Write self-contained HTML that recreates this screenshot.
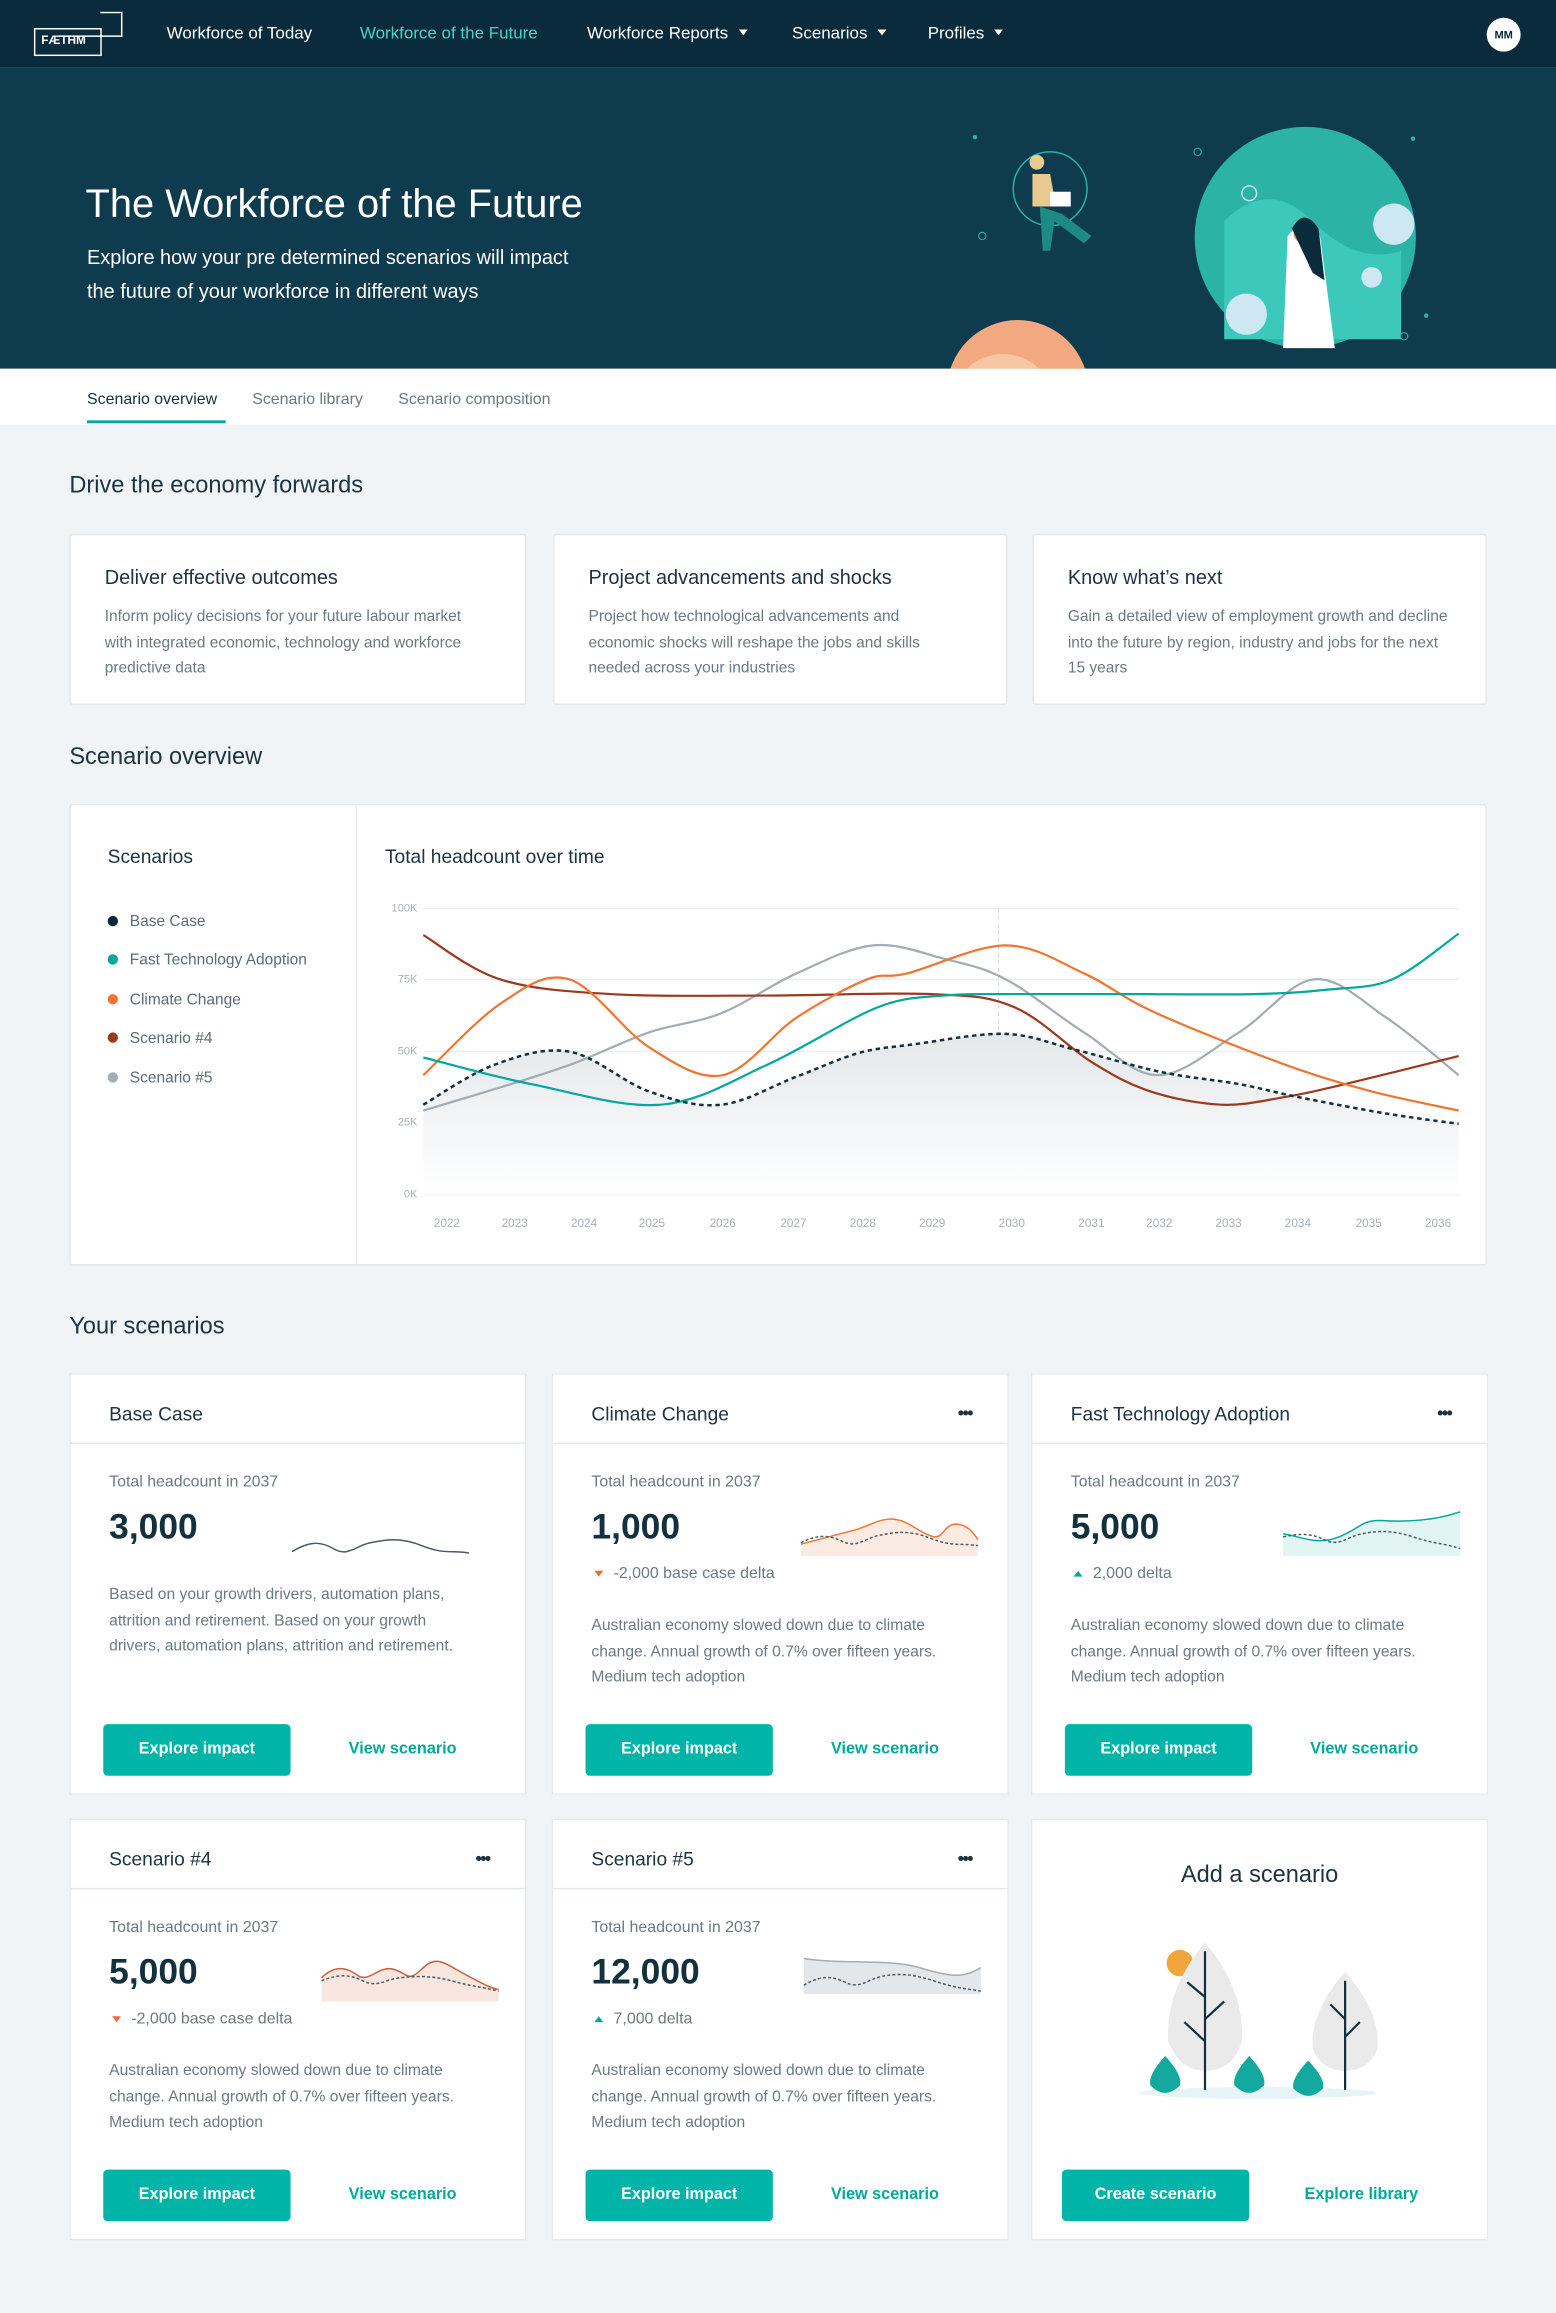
<!DOCTYPE html>
<html><head><meta charset="utf-8">
<style>
*{box-sizing:border-box;margin:0;padding:0}
html,body{width:1556px;height:2312px;overflow:hidden;background:#f1f4f6}
body{font-family:"Liberation Sans",sans-serif;color:#1d3440}
#w{position:absolute;left:0;top:0;width:1055px;height:1568px;transform:scale(1.4749);transform-origin:0 0;background:#f1f4f6}
.a{position:absolute;white-space:nowrap}
.card{position:absolute;background:#fff;border:1px solid #e3e8eb;border-radius:2px}
.nav{position:absolute;top:17px;font-size:11.5px;color:#fff}
.tri{display:inline-block;width:0;height:0;border-left:3.5px solid transparent;border-right:3.5px solid transparent;border-top:4px solid #fff;margin-left:7px;vertical-align:2px}
.h2{position:absolute;left:47px;font-size:16px;color:#1d3440}
.ct{font-size:13.5px;color:#1d3440;position:absolute;left:23px;top:21px}
.cb{font-size:10.5px;color:#6a7a83;line-height:17.7px;position:absolute;left:23px;top:47px;white-space:normal;width:258px}
.sc{position:absolute;background:#fff;border:1px solid #e6eaed;width:310px;height:286px}
.sc .t{position:absolute;left:26px;top:19px;font-size:13px;color:#1d3440}
.sc .dots{position:absolute;right:24px;top:19px;font-size:12px;color:#1d3440;letter-spacing:-1px;font-weight:bold}
.sc .hr{position:absolute;left:0;right:0;top:46px;border-top:1px solid #e3e8eb}
.sc .l{position:absolute;left:26px;top:67px;font-size:10.8px;color:#6a7a83}
.sc .n{position:absolute;left:26px;top:90px;font-size:24px;font-weight:bold;color:#12303d}
.sc .d{position:absolute;left:26px;top:129px;font-size:10.8px;color:#6a7a83}
.sc .p{position:absolute;left:26px;font-size:10.6px;color:#6a7a83;line-height:17.7px;width:250px;white-space:normal}
.btn{position:absolute;left:22px;top:237px;width:127px;height:35px;background:#00b5a8;border-radius:3px;color:#fff;font-size:11px;font-weight:bold;text-align:center;line-height:35px}
.lnk{position:absolute;left:160px;top:237px;width:130px;line-height:35px;text-align:center;color:#00a99d;font-size:11px;font-weight:bold}
.up{display:inline-block;width:0;height:0;border-left:3.5px solid transparent;border-right:3.5px solid transparent;border-bottom:4px solid #00a99d;margin:0 7px 1px 2px}
.dn{display:inline-block;width:0;height:0;border-left:3.5px solid transparent;border-right:3.5px solid transparent;border-top:4px solid #f2673a;margin:0 7px 1px 2px}
.lg{position:absolute;left:73px;font-size:10.5px;color:#5b6c75}
.lg i{display:inline-block;width:7px;height:7px;border-radius:50%;margin-right:8px;vertical-align:0}
.yl{position:absolute;font-size:7.5px;color:#a7b1b7;width:30px;text-align:right;left:253px}
.xl{position:absolute;top:825px;font-size:8px;color:#a7b1b7;transform:translateX(-50%)}
</style></head><body>
<div id="w">
<div class="a" style="left:0;top:0;width:1055px;height:46px;background:#0a2b3b"></div>
<div class="a" style="left:0;top:46px;width:1055px;height:204px;background:#0f3b4e"></div>
<div class="a" style="left:23px;top:19px;width:46px;height:19px;border:1.5px solid #fff;color:#fff;font-size:8px;font-weight:bold;line-height:16px;padding-left:4px">FÆTHM</div>
<div class="a" style="left:68px;top:8px;width:15px;height:17px;border:1.5px solid #fff;border-left:none"></div>
<div class="a" style="left:40px;top:24px;width:29px;border-top:1.5px solid #fff"></div>
<div class="nav" style="left:113px">Workforce of Today</div>
<div class="nav" style="left:244px;color:#4fd1c5">Workforce of the Future</div>
<div class="nav" style="left:398px">Workforce Reports<span class="tri"></span></div>
<div class="nav" style="left:537px">Scenarios<span class="tri"></span></div>
<div class="nav" style="left:629px">Profiles<span class="tri"></span></div>
<div class="a" style="left:1008px;top:12px;width:23px;height:23px;border-radius:50%;background:#fff;color:#0a2b3b;font-size:7.5px;font-weight:bold;text-align:center;line-height:23px">MM</div>
<div class="a" style="left:58px;top:123px;font-size:27px;color:#fff">The Workforce of the Future</div>
<div class="a" style="left:59px;top:163px;font-size:13.5px;color:#fff;line-height:23px">Explore how your pre determined scenarios will impact<br>the future of your workforce in different ways</div>
<svg class="a" style="left:620px;top:46px" width="360" height="204" viewBox="620 46 360 204">
<circle cx="885" cy="161" r="75" fill="#2bb3a6"/>
<path d="M830 150 Q860 120 890 150 T950 170 L950 230 L830 230Z" fill="#3cc8bb"/>
<circle cx="945" cy="152" r="14" fill="#cde8f2"/><circle cx="845" cy="213" r="14" fill="#cde8f2"/><circle cx="930" cy="188" r="7" fill="#cde8f2"/>
<path d="M873 160 Q885 145 895 160 L905 236 L870 236Z" fill="#fff"/>
<circle cx="884" cy="158" r="7" fill="#e08a65"/><path d="M876 155 Q884 140 894 155 L898 190 L890 185Z" fill="#0a2b3b"/>
<circle cx="847" cy="131" r="5" fill="none" stroke="#cde8f2"/>
<circle cx="712" cy="128" r="25" fill="none" stroke="#2bb3a6"/>
<path d="M700 118 L712 118 L716 140 L700 140Z" fill="#e8c98f"/><circle cx="703" cy="110" r="5" fill="#e8c98f"/>
<rect x="712" y="130" width="14" height="10" fill="#fff"/><path d="M705 140 L720 145 L740 160 L735 165 L715 150 L712 170 L707 170Z" fill="#1d8a85"/>
<circle cx="690" cy="265" r="48" fill="#f2a97f"/><circle cx="680" cy="275" r="35" fill="#f7c7a4"/>
<circle cx="661" cy="93" r="1.5" fill="#2bb3a6"/><circle cx="958" cy="94" r="1.5" fill="#2bb3a6"/><circle cx="967" cy="214" r="1.5" fill="#2bb3a6"/>
<circle cx="666" cy="160" r="2.5" fill="none" stroke="#2bb3a6" stroke-width=".7"/><circle cx="812" cy="103" r="2.5" fill="none" stroke="#2bb3a6" stroke-width=".7"/><circle cx="952" cy="228" r="2.5" fill="none" stroke="#2bb3a6" stroke-width=".7"/>
</svg>
<div class="a" style="left:0;top:250px;width:1055px;height:38px;background:#fff"></div>
<div class="a" style="left:59px;top:265px;font-size:10.8px;color:#12303d">Scenario overview</div>
<div class="a" style="left:59px;top:285px;width:94px;height:2px;background:#00a99d"></div>
<div class="a" style="left:171px;top:265px;font-size:10.8px;color:#6a7a83">Scenario library</div>
<div class="a" style="left:270px;top:265px;font-size:10.8px;color:#6a7a83">Scenario composition</div>

<div class="h2" style="top:321px">Drive the economy forwards</div>
<div class="card" style="left:47px;top:362px;width:310px;height:116px"><div class="ct">Deliver effective outcomes</div><div class="cb">Inform policy decisions for your future labour market with integrated economic, technology and workforce predictive data</div></div>
<div class="card" style="left:375px;top:362px;width:308px;height:116px"><div class="ct">Project advancements and shocks</div><div class="cb">Project how technological advancements and economic shocks will reshape the jobs and skills needed across your industries</div></div>
<div class="card" style="left:700px;top:362px;width:308px;height:116px"><div class="ct">Know what’s next</div><div class="cb">Gain a detailed view of employment growth and decline into the future by region, industry and jobs for the next 15 years</div></div>

<div class="h2" style="top:505px">Scenario overview</div>
<div class="card" style="left:47px;top:545px;width:961px;height:313px"></div>
<div class="a" style="left:241px;top:546px;height:311px;border-left:1px solid #e6eaed"></div>
<div class="a" style="left:73px;top:573px;font-size:13px;color:#1d3440">Scenarios</div>
<div class="a" style="left:261px;top:573px;font-size:13px;color:#1d3440">Total headcount over time</div>
<div class="lg" style="top:619px"><i style="background:#0a2b3b"></i>Base Case</div>
<div class="lg" style="top:645px"><i style="background:#00a99d"></i>Fast Technology Adoption</div>
<div class="lg" style="top:672px"><i style="background:#ef7530"></i>Climate Change</div>
<div class="lg" style="top:698px"><i style="background:#9b3a1e"></i>Scenario #4</div>
<div class="lg" style="top:725px"><i style="background:#a3acb2"></i>Scenario #5</div>
<div class="yl" style="top:611px">100K</div><div class="yl" style="top:659px">75K</div><div class="yl" style="top:708px">50K</div><div class="yl" style="top:756px">25K</div><div class="yl" style="top:805px">0K</div>
<div class="xl" style="left:303px">2022</div><div class="xl" style="left:349px">2023</div><div class="xl" style="left:396px">2024</div><div class="xl" style="left:442px">2025</div><div class="xl" style="left:490px">2026</div><div class="xl" style="left:538px">2027</div><div class="xl" style="left:585px">2028</div><div class="xl" style="left:632px">2029</div><div class="xl" style="left:686px">2030</div><div class="xl" style="left:740px">2031</div><div class="xl" style="left:786px">2032</div><div class="xl" style="left:833px">2033</div><div class="xl" style="left:880px">2034</div><div class="xl" style="left:928px">2035</div><div class="xl" style="left:975px">2036</div>
<svg class="a" style="left:0;top:0" width="1055" height="900" viewBox="0 0 1055 900">
<defs><linearGradient id="g" x1="0" y1="0" x2="0" y2="1"><stop offset="0" stop-color="#e4e8eb"/><stop offset="1" stop-color="#fff"/></linearGradient></defs>
<g stroke="#eceff1" stroke-width="1"><line x1="287" y1="616" x2="989" y2="616"/><line x1="287" y1="664" x2="989" y2="664"/><line x1="287" y1="713" x2="989" y2="713"/><line x1="287" y1="761" x2="989" y2="761"/><line x1="287" y1="810" x2="989" y2="810"/></g>
<line x1="677" y1="616" x2="677" y2="810" stroke="#dcdfe2" stroke-dasharray="3 2" stroke-width=".7"/>
<path id="area" fill="url(#g)"/>
<g fill="none" stroke-width="1.5">
<path id="s5" stroke="#a3acb2"/><path id="s4" stroke="#9b3a1e"/><path id="s3" stroke="#ef7530"/><path id="s2" stroke="#00a99d"/><path id="s1" stroke="#12303d" stroke-dasharray="3 2.5" stroke-width="1.7"/>
</g>
</svg>

<div class="h2" style="top:891px">Your scenarios</div>

<div class="sc" style="left:47px;top:931px"><div class="t">Base Case</div><div class="hr"></div><div class="l">Total headcount in 2037</div><div class="n">3,000</div>
<svg class="a" style="left:148px;top:100px" width="125" height="30"><path d="M2 20 C12 14 20 12 30 18 S45 16 55 14 S75 10 90 16 S110 19 122 21" fill="none" stroke="#465a66" stroke-width="1"/></svg>
<div class="p" style="top:141px">Based on your growth drivers, automation plans, attrition and retirement. Based on your growth drivers, automation plans, attrition and retirement.</div>
<div class="btn">Explore impact</div><div class="lnk">View scenario</div></div>

<div class="sc" style="left:374px;top:931px"><div class="t">Climate Change</div><div class="dots">•••</div><div class="hr"></div><div class="l">Total headcount in 2037</div><div class="n">1,000</div>
<svg class="a" style="left:166px;top:95px" width="130" height="35"><path d="M2 20 L40 10 C55 5 62 -2 78 8 S95 16 100 10 S115 5 122 17 L122 28 L2 28Z" fill="#fbe3d6" opacity=".7"/><path d="M2 20 L40 10 C55 5 62 -2 78 8 S95 16 100 10 S115 5 122 17" fill="none" stroke="#ef7530" stroke-width="1"/><path d="M2 19 C12 14 20 13 30 18 S45 16 55 14 S75 10 90 16 S110 19 122 21" fill="none" stroke="#465a66" stroke-width="1" stroke-dasharray="2 1.5"/></svg>
<div class="d"><span class="dn"></span>-2,000 base case delta</div>
<div class="p" style="top:162px">Australian economy slowed down due to climate change. Annual growth of 0.7% over fifteen years. Medium tech adoption</div>
<div class="btn">Explore impact</div><div class="lnk">View scenario</div></div>

<div class="sc" style="left:699px;top:931px"><div class="t">Fast Technology Adoption</div><div class="dots">•••</div><div class="hr"></div><div class="l">Total headcount in 2037</div><div class="n">5,000</div>
<svg class="a" style="left:168px;top:88px" width="130" height="40"><path d="M2 20 C15 22 25 28 40 22 S55 10 70 11 S105 11 122 5 L122 35 L2 35Z" fill="#d6f1ee" opacity=".7"/><path d="M2 20 C15 22 25 28 40 22 S55 10 70 11 S105 11 122 5" fill="none" stroke="#00a99d" stroke-width="1"/><path d="M2 22 C12 20 20 19 30 24 S45 22 55 20 S75 17 90 22 S110 26 122 30" fill="none" stroke="#465a66" stroke-width="1" stroke-dasharray="2 1.5"/></svg>
<div class="d"><span class="up"></span>2,000 delta</div>
<div class="p" style="top:162px">Australian economy slowed down due to climate change. Annual growth of 0.7% over fifteen years. Medium tech adoption</div>
<div class="btn">Explore impact</div><div class="lnk">View scenario</div></div>

<div class="sc" style="left:47px;top:1233px"><div class="t">Scenario #4</div><div class="dots">•••</div><div class="hr"></div><div class="l">Total headcount in 2037</div><div class="n">5,000</div>
<svg class="a" style="left:168px;top:95px" width="130" height="35"><path d="M2 12 C10 4 18 4 26 10 S40 4 50 6 S60 16 70 6 S85 2 100 10 S115 18 122 20 L122 28 L2 28Z" fill="#f7dcd2" opacity=".7"/><path d="M2 12 C10 4 18 4 26 10 S40 4 50 6 S60 16 70 6 S85 2 100 10 S115 18 122 20" fill="none" stroke="#c8603f" stroke-width="1"/><path d="M2 14 C12 10 20 9 30 14 S45 13 55 12 S75 10 90 14 S110 18 122 21" fill="none" stroke="#465a66" stroke-width="1" stroke-dasharray="2 1.5"/></svg>
<div class="d"><span class="dn"></span>-2,000 base case delta</div>
<div class="p" style="top:162px">Australian economy slowed down due to climate change. Annual growth of 0.7% over fifteen years. Medium tech adoption</div>
<div class="btn">Explore impact</div><div class="lnk">View scenario</div></div>

<div class="sc" style="left:374px;top:1233px"><div class="t">Scenario #5</div><div class="dots">•••</div><div class="hr"></div><div class="l">Total headcount in 2037</div><div class="n">12,000</div>
<svg class="a" style="left:168px;top:88px" width="130" height="40"><path d="M2 6 C30 10 60 6 80 12 S110 20 122 12 L122 30 L2 30Z" fill="#e3e7ea"/><path d="M2 6 C30 10 60 6 80 12 S110 20 122 12" fill="none" stroke="#a3acb2" stroke-width="1"/><path d="M2 24 C12 18 20 17 30 22 S45 20 55 18 S75 16 90 21 S110 26 122 28" fill="none" stroke="#465a66" stroke-width="1" stroke-dasharray="2 1.5"/></svg>
<div class="d"><span class="up"></span>7,000 delta</div>
<div class="p" style="top:162px">Australian economy slowed down due to climate change. Annual growth of 0.7% over fifteen years. Medium tech adoption</div>
<div class="btn">Explore impact</div><div class="lnk">View scenario</div></div>

<div class="sc" style="left:699px;top:1233px">
<div class="a" style="left:0;width:308px;top:29px;text-align:center;font-size:16px;color:#1d3440">Add a scenario</div>
<svg class="a" style="left:70px;top:75px" width="180" height="120">
<ellipse cx="83" cy="110" rx="80" ry="4" fill="#e6f4f6"/>
<circle cx="30" cy="22" r="9" fill="#f0a63a"/>
<path d="M47 8 Q20 40 22 75 Q30 95 47 95 Q66 95 72 75 Q74 40 47 8Z" fill="#eaeaea"/>
<path d="M142 28 Q118 55 120 80 Q126 95 142 95 Q158 95 164 80 Q166 55 142 28Z" fill="#eaeaea"/>
<path d="M47 14 V108 M47 45 L35 35 M47 60 L60 48 M47 75 L33 62" stroke="#12303d" stroke-width="1.5" fill="none"/>
<path d="M142 34 V108 M142 60 L132 50 M142 72 L152 62" stroke="#12303d" stroke-width="1.5" fill="none"/>
<path d="M20 85 Q8 98 10 105 Q20 115 30 105 Q32 98 20 85Z" fill="#14a99f"/>
<path d="M77 85 Q65 98 67 105 Q77 115 87 105 Q89 98 77 85Z" fill="#14a99f"/>
<path d="M117 88 Q105 101 107 107 Q117 117 127 107 Q129 101 117 88Z" fill="#14a99f"/>
</svg>
<div class="btn" style="left:20px">Create scenario</div><div class="lnk" style="left:158px">Explore library</div></div>
</div>
<script>
function cr(p){var d="M"+p[0][0]+" "+p[0][1];for(var i=0;i<p.length-1;i++){var a=p[i-1]||p[i],b=p[i],c=p[i+1],e=p[i+2]||c;
d+=" C"+(b[0]+(c[0]-a[0])/6).toFixed(1)+" "+(b[1]+(c[1]-a[1])/6).toFixed(1)+" "+(c[0]-(e[0]-b[0])/6).toFixed(1)+" "+(c[1]-(e[1]-b[1])/6).toFixed(1)+" "+c[0]+" "+c[1];}return d;}
var s1=[[287,749],[335,722],[386,713],[440,740],[489,749],[540,730],[582,714],[620,708],[682,701],[730,712],[788,727],[840,735],[881,744],[940,755],[989,762]];
var s2=[[287,717],[360,735],[448,749],[520,722],[595,683],[640,675],[682,674],[760,674],[850,674],[900,671],[944,664],[989,633]];
var s3=[[287,729],[340,680],[386,664],[440,710],[490,729],[540,690],[588,664],[615,660],[682,641],[735,660],[782,686],[869,721],[930,740],[989,753]];
var s4=[[287,634],[339,664],[414,674],[520,675],[632,674],[688,683],[740,720],[780,740],[828,749],[870,744],[912,735],[989,716]];
var s5=[[287,753],[340,737],[389,721],[440,700],[489,687],[540,660],[592,641],[640,650],[682,664],[735,700],[785,729],[840,700],[891,664],[940,690],[989,729]];
document.getElementById('s1').setAttribute('d',cr(s1));
document.getElementById('area').setAttribute('d',cr(s1)+" L989 810 L287 810Z");
document.getElementById('s2').setAttribute('d',cr(s2));
document.getElementById('s3').setAttribute('d',cr(s3));
document.getElementById('s4').setAttribute('d',cr(s4));
document.getElementById('s5').setAttribute('d',cr(s5));
</script>
</body></html>
